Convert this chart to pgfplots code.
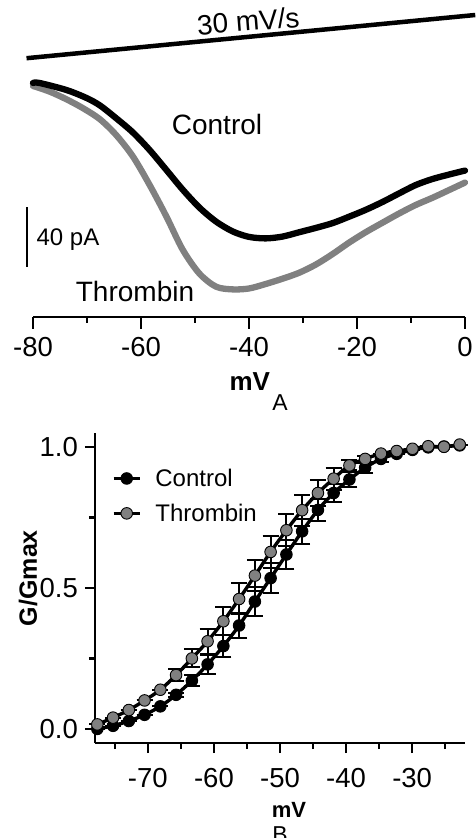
\documentclass[border=0pt]{standalone}
\usepackage{fontspec}
\setmainfont{Liberation Sans}
\usepackage{pgfplots}
\usepackage{pgfplotstable}
\pgfplotsset{compat=1.18}
\definecolor{thrgray}{RGB}{128,128,128}

% panel B: G/Gmax vs mV
\pgfplotstableread{
x      c     ce    t     te
-77.65 0.000 0.000 0.016 0.000
-75.27 0.011 0.000 0.040 0.000
-72.88 0.028 0.000 0.067 0.000
-70.50 0.050 0.000 0.101 0.000
-68.11 0.080 0.000 0.139 0.000
-65.73 0.121 0.008 0.191 0.020
-63.34 0.171 0.020 0.250 0.032
-60.96 0.229 0.035 0.311 0.045
-58.57 0.294 0.040 0.382 0.050
-56.19 0.367 0.045 0.461 0.055
-53.80 0.452 0.052 0.544 0.055
-51.42 0.535 0.052 0.628 0.057
-49.03 0.619 0.050 0.705 0.056
-46.65 0.701 0.045 0.776 0.055
-44.26 0.777 0.039 0.837 0.047
-41.88 0.837 0.033 0.888 0.039
-39.49 0.885 0.026 0.935 0.018
-37.11 0.927 0.018 0.958 0.010
-34.72 0.958 0.010 0.977 0.000
-32.34 0.976 0.000 0.986 0.000
-29.95 0.990 0.000 0.994 0.000
-27.57 0.999 0.000 1.003 0.000
-25.18 1.002 0.000 1.001 0.000
-22.80 1.006 0.000 1.009 0.000
}\gdata

\begin{document}
\begin{tikzpicture}[x=1pt,y=1pt]
\useasboundingbox (0,0) rectangle (475,838);

%% ---------- panel A: ramp currents ----------
\begin{axis}[
  at={(33pt,521pt)}, anchor=south west,
  scale only axis, width=432pt, height=317pt,
  xmin=-80, xmax=0, ymin=-156, ymax=55.3,
  axis x line=bottom, axis y line=none,
  axis line style={line width=2.8pt,-},
  xtick={-80,-60,-40,-20,0}, minor xtick={-70,-50,-30,-10},
  tick align=outside, major tick length=12pt, minor tick length=6pt,
  tick style={line width=2.6pt, black},
  clip=false,
  /pgf/number format/assume math mode=true,
  xticklabel style={font=\fontsize{27.5}{32}\selectfont, anchor=base, yshift=-28pt, inner sep=0pt},
  xlabel={\textbf{mV}},
  every axis x label/.style={at={(axis description cs:0.502,-0.205)}, anchor=center,
    font=\fontsize{26}{30}\selectfont},
]
% stimulus ramp
\addplot[black, line width=4.5pt] coordinates {(-81.2,16.5) (1.9,45.3)};

\addplot[thrgray, line width=6.3pt, smooth, line cap=round, line join=round] coordinates {
  (-80,-2) (-76.9,-5.8) (-73.8,-10.9) (-70.7,-16.9) (-67.6,-24.2) (-64.6,-34.7)
  (-61.5,-49) (-58.4,-68) (-55.3,-89) (-52.3,-111) (-49.2,-127) (-46.1,-135.8)
  (-43.0,-137.6) (-40.0,-137) (-36.9,-134) (-33.8,-130.5) (-30.7,-126.5) (-27.6,-121)
  (-24.5,-114) (-21.5,-106.5) (-18.4,-99.5) (-15.2,-93) (-12.2,-87) (-9.1,-81.3)
  (-6.0,-76.5) (-2.9,-71.3) (0,-66.4)
};
\addplot[black, line width=6.3pt, smooth, line cap=round, line join=round] coordinates {
  (-80,0) (-78.8,0) (-73.8,-4.7) (-70.1,-10) (-67.6,-15) (-64.6,-23.5)
  (-61.5,-33) (-58.4,-44.7) (-55.3,-58) (-52.3,-71) (-49.2,-83) (-46.1,-92.4)
  (-43.0,-99) (-40.0,-102.6) (-36.9,-103.6) (-33.8,-102.4) (-30.7,-99.5) (-27.6,-96.6)
  (-24.5,-93.4) (-21.5,-89.2) (-18.4,-84.6) (-15.2,-79.2) (-12.2,-73.6) (-9.1,-68)
  (-6.0,-64) (-2.9,-61) (0,-58.4)
};
% 40 pA scale bar
\draw[line width=2.8pt] (axis cs:-81.1,-82.7) -- (axis cs:-81.1,-122.7);
\end{axis}

\node[font=\fontsize{28}{32}\selectfont, anchor=base] at (217,703) {Control};
\node[font=\fontsize{28}{32}\selectfont, anchor=base] at (135,536) {Thrombin};
\node[font=\fontsize{24}{28}\selectfont, anchor=base] at (68,592) {40 pA};
\node[font=\fontsize{28}{32}\selectfont, anchor=base, rotate=4.5] at (249,807) {30 mV/s};
\node[font=\fontsize{23}{27}\selectfont] at (280,435) {A};

%% ---------- panel B: activation curves ----------
\begin{axis}[
  at={(95pt,95pt)}, anchor=south west,
  scale only axis, width=370pt, height=310pt,
  xmin=-78, xmax=-22, ymin=-0.05, ymax=1.05,
  axis x line=bottom, axis y line=left,
  axis line style={line width=2.8pt,-},
  xtick={-70,-60,-50,-40,-30}, minor xtick={-75,-65,-55,-45,-35,-25},
  ytick={0,0.5,1}, yticklabels={0.0,0.5,1.0}, minor ytick={0.25,0.75},
  tick align=outside, major tick length=10pt, minor tick length=6pt,
  tick style={line width=2.6pt, black},
  clip=false,
  /pgf/number format/assume math mode=true,
  xticklabel style={font=\fontsize{27.5}{32}\selectfont, anchor=base, yshift=-34pt, inner sep=0pt},
  yticklabel style={font=\fontsize{27.5}{32}\selectfont, anchor=east, xshift=-7pt, inner sep=0pt},
  xlabel={\textbf{mV}},
  every axis x label/.style={at={(axis description cs:0.524,-0.216)}, anchor=center,
    font=\fontsize{22}{26}\selectfont},
  ylabel={\textbf{G/Gmax}},
  every axis y label/.style={at={(axis description cs:-0.181,0.532)}, anchor=center,
    rotate=90, font=\fontsize{25}{29}\selectfont},
  legend style={draw=none, fill=none, inner sep=0pt, outer sep=0pt,
    at={(axis description cs:0.046,0.797)}, anchor=west,
    font=\fontsize{24}{28}\selectfont, row sep=16pt, column sep=14pt,
    nodes={inner sep=0pt}},
  legend cell align=left,
  legend image code/.code={\draw[mark repeat=2,mark phase=2,#1]
    plot coordinates {(0pt,0pt) (13pt,0pt) (26pt,0pt)};},
]
\addplot[black, line width=3.4pt, smooth,
  mark=*, mark size=5.8pt, mark options={fill=black, draw=black, line width=0.9pt},
  error bars/.cd, y dir=both, y explicit,
  error bar style={line width=2pt, black},
  error mark options={rotate=90, mark size=8pt, line width=2pt, black}]
  table[x=x, y=c, y error=ce] {\gdata};
\addlegendentry{Control}
\addplot[black, line width=3.4pt, smooth,
  mark=*, mark size=5.8pt, mark options={fill=thrgray, draw=black, line width=0.9pt},
  error bars/.cd, y dir=both, y explicit,
  error bar style={line width=2pt, black},
  error mark options={rotate=90, mark size=8pt, line width=2pt, black}]
  table[x=x, y=t, y error=te] {\gdata};
\addlegendentry{Thrombin}
\end{axis}

\node[font=\fontsize{23}{27}\selectfont] at (280,3) {B};
\end{tikzpicture}
\end{document}
